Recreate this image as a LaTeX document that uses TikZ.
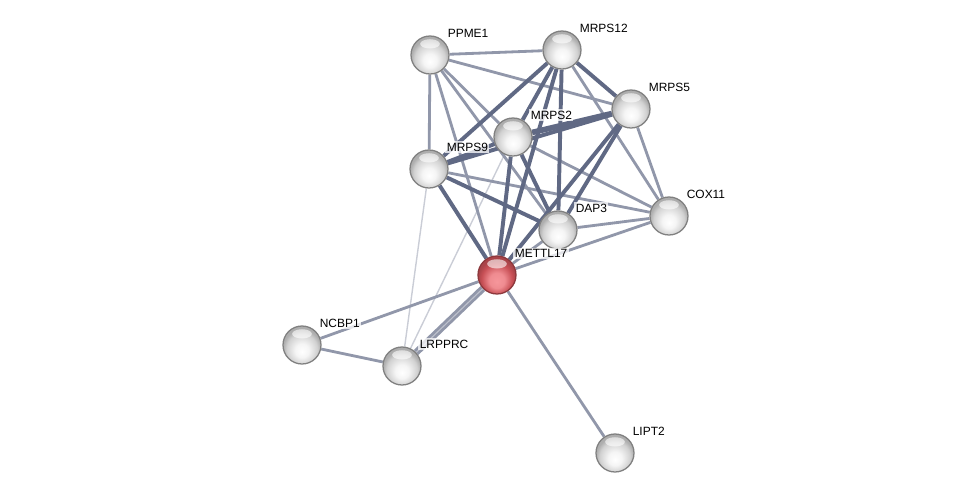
\documentclass[tikz,border=0pt]{standalone}
\usepackage{fontspec}
\setmainfont{Liberation Sans}
\usetikzlibrary{backgrounds}

\definecolor{linkc}{RGB}{66,76,108}
\definecolor{qred}{RGB}{200,80,86}
\definecolor{qredlt}{RGB}{246,150,155}

\pgfdeclareradialshading{greyball}{\pgfpoint{0bp}{-9bp}}{%
  color(0bp)=(white); color(9bp)=(white!96!black); color(20bp)=(black!18);
  color(25bp)=(black!32); color(50bp)=(black!32)}
\pgfdeclareradialshading{redball}{\pgfpoint{0bp}{-9bp}}{%
  color(0bp)=(qredlt); color(10bp)=(qredlt!85!qred); color(20bp)=(qred);
  color(25bp)=(qred!85!black); color(50bp)=(qred!85!black)}

\tikzset{
  protnode/.style={circle, minimum size=0.95cm, inner sep=0pt,
                   draw=black!50, line width=0.9pt, shading=greyball,
                   path picture={\fill[white, opacity=0.6]
                     ([yshift=-5.6pt]path picture bounding box.north)
                     ellipse (7pt and 3.3pt);}},
  querynode/.style={protnode, draw=qred!70!black, shading=redball},
  protlbl/.style={font=\fontsize{8.5}{10}\selectfont, text=black,
                  fill=white, fill opacity=0.75, text opacity=1, inner sep=1pt,
                  xshift=1.6pt, yshift=1.6pt},
  thinlink/.style={line width=1pt, draw=linkc!28},
  midlink/.style={line width=2pt, draw=linkc!58},
  strlink/.style={line width=2.8pt, draw=linkc!84},
}

\begin{document}
\begin{tikzpicture}[x=0.025cm, y=-0.025cm]
  \useasboundingbox (0,0) rectangle (975,498);

  \node[protnode, label={[protlbl]45:PPME1}]   (ppme1)   at (430,55)  {};
  \node[protnode, label={[protlbl]45:MRPS12}]  (mrps12)  at (562,50)  {};
  \node[protnode, label={[protlbl]45:MRPS5}]   (mrps5)   at (631,109) {};
  \node[protnode, label={[protlbl]45:MRPS2}]   (mrps2)   at (513,137) {};
  \node[protnode, label={[protlbl]45:MRPS9}]   (mrps9)   at (429,169) {};
  \node[protnode, label={[protlbl]45:DAP3}]    (dap3)    at (558,230) {};
  \node[protnode, label={[protlbl]45:COX11}]   (cox11)   at (669,216) {};
  \node[querynode, label={[protlbl]45:METTL17}] (mettl17) at (497,275) {};
  \node[protnode, label={[protlbl]45:NCBP1}]   (ncbp1)   at (302,345) {};
  \node[protnode, label={[protlbl]45:LRPPRC}]  (lrpprc)  at (402,366) {};
  \node[protnode, label={[protlbl]45:LIPT2}]   (lipt2)   at (615,453) {};

  \begin{scope}[on background layer]
    % weak evidence
    \foreach \a/\b in {lrpprc/mrps9, lrpprc/mrps2} {
      \draw[thinlink] (\a) -- (\b);
    }
    % medium evidence
    \foreach \a/\b in {ppme1/mrps12, ppme1/mrps5, ppme1/mrps9, ppme1/mrps2,
                       ppme1/dap3, ppme1/mettl17, mrps12/cox11, mrps5/cox11,
                       mrps2/cox11, mrps9/cox11, dap3/cox11, cox11/mettl17,
                       dap3/mettl17, mettl17/ncbp1, mettl17/lipt2, ncbp1/lrpprc} {
      \draw[midlink] (\a) -- (\b);
    }
    \draw[midlink, double=linkc!35, double distance=0.8pt] (mettl17) -- (lrpprc);
    % strong evidence
    \foreach \a/\b in {mrps12/mrps9, mrps12/mrps5, mrps12/dap3, mrps12/mrps2,
                       mrps12/mettl17, mrps5/mrps9, mrps5/dap3, mrps5/mettl17,
                       mrps2/mrps9, mrps2/dap3, mrps2/mettl17, mrps9/dap3,
                       mrps9/mettl17} {
      \draw[strlink] (\a) -- (\b);
    }
    \draw[strlink, line width=4pt] (mrps5) -- (mrps2);
  \end{scope}
\end{tikzpicture}
\end{document}
